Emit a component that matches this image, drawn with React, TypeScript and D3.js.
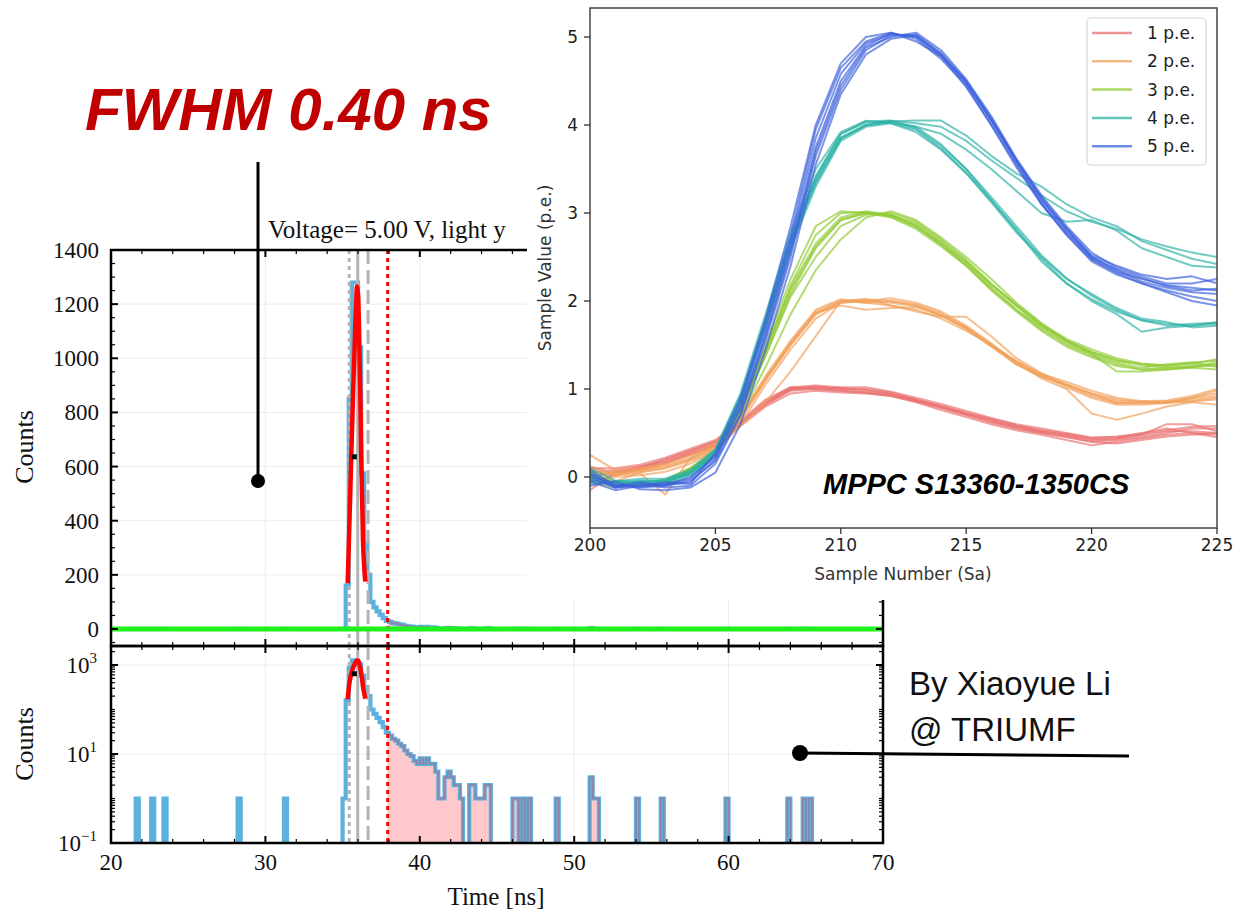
import React from "react";
import * as d3 from "d3";

// ---------------- Histogram data (time in ns, counts) ----------------
const BIN_WIDTH = 0.2;
const HIST_START = 20;
const HIST_END = 70;
const binStarts = [21.6, 22.6, 23.4, 28.2, 31.2, 35.0, 35.2, 35.4, 35.6, 35.8, 36.0, 36.2, 36.4, 36.6, 36.8, 37.0, 37.2, 37.4, 37.6, 37.8, 38.0, 38.2, 38.4, 38.6, 38.8, 39.0, 39.2, 39.4, 39.6, 39.8, 40.0, 40.2, 40.4, 40.6, 40.8, 41.0, 41.2, 41.4, 41.6, 41.8, 42.0, 42.2, 42.4, 42.6, 43.2, 43.4, 43.6, 43.8, 44.0, 44.2, 44.4, 46.0, 46.2, 46.6, 47.0, 48.8, 51.0, 51.2, 51.4, 54.0, 55.6, 59.8, 63.8, 64.8, 65.2];
const binCounts = [1, 1, 1, 1, 1, 1, 160, 850, 1280, 1280, 1040, 575, 317, 200, 100, 80, 65, 52, 40, 30, 26, 22, 20, 17, 15, 12, 10, 9, 7, 6, 8, 6, 8, 6, 6, 4, 1, 1, 3, 4, 3, 2, 2, 1, 2, 2, 1, 1, 1, 2, 2, 1, 1, 1, 1, 1, 3, 1, 1, 1, 1, 1, 1, 1, 1];

// Gaussian fit curve
const fitTime = [35.33, 35.41, 35.5, 35.59, 35.68, 35.76, 35.82, 35.87, 35.93, 35.98, 36.02, 36.06, 36.1, 36.15, 36.19, 36.26, 36.32, 36.4, 36.47];
const fitCounts = [169, 329, 510, 698, 870, 1006, 1120, 1191, 1265, 1250, 1215, 1120, 1006, 860, 698, 500, 329, 230, 175];

// Reference lines (ns)
const lowEdgeTime = 35.43;
const peakTime = 35.98;
const highEdgeTime = 36.65;
const thresholdTime = 37.92;
const halfMaxTime = 35.76;
const halfMaxCount = 636;

const xTicksMain = [20, 30, 40, 50, 60, 70];
const yTicksLinear = [0, 200, 400, 600, 800, 1000, 1200, 1400];
const yTicksLogExp = [-1, 1, 3];

// ---------------- Inset waveform data ----------------
const sampleNumbers = [200, 201, 202, 203, 204, 205, 206, 207, 208, 209, 210, 211, 212, 213, 214, 215, 216, 217, 218, 219, 220, 221, 222, 223, 224, 225];
const peLabels = ["1 p.e.", "2 p.e.", "3 p.e.", "4 p.e.", "5 p.e."];

const pe1Traces = [
  [0.05, 0.08, 0.12, 0.18, 0.28, 0.38, 0.6, 0.85, 1.0, 1.02, 1.0, 0.98, 0.95, 0.88, 0.8, 0.72, 0.65, 0.58, 0.52, 0.48, 0.42, 0.43, 0.47, 0.52, 0.52, 0.5],
  [-0.15, 0.05, 0.1, 0.2, 0.3, 0.4, 0.62, 0.82, 0.98, 1.0, 0.98, 0.96, 0.92, 0.86, 0.78, 0.7, 0.62, 0.55, 0.5, 0.45, 0.4, 0.42, 0.45, 0.5, 0.55, 0.55],
  [0.1, 0.1, 0.14, 0.22, 0.32, 0.42, 0.64, 0.88, 1.02, 1.04, 1.02, 1.02, 0.97, 0.9, 0.83, 0.75, 0.67, 0.6, 0.55, 0.5, 0.45, 0.45, 0.5, 0.55, 0.5, 0.48],
  [-0.05, 0.02, 0.08, 0.15, 0.25, 0.35, 0.58, 0.8, 0.95, 0.98, 0.96, 0.95, 0.92, 0.85, 0.76, 0.68, 0.6, 0.53, 0.48, 0.42, 0.36, 0.4, 0.44, 0.48, 0.5, 0.45],
  [0.0, 0.06, 0.1, 0.16, 0.26, 0.36, 0.6, 0.84, 1.0, 1.03, 1.0, 1.0, 0.96, 0.88, 0.8, 0.72, 0.64, 0.57, 0.52, 0.47, 0.43, 0.44, 0.48, 0.6, 0.6, 0.52],
  [0.12, 0.04, 0.12, 0.2, 0.3, 0.4, 0.62, 0.86, 1.02, 1.0, 0.98, 0.96, 0.93, 0.86, 0.79, 0.71, 0.63, 0.56, 0.5, 0.46, 0.4, 0.38, 0.42, 0.46, 0.48, 0.5],
  [0.02, 0.03, 0.09, 0.17, 0.27, 0.37, 0.61, 0.83, 0.99, 1.01, 1.01, 0.99, 0.94, 0.87, 0.81, 0.73, 0.66, 0.59, 0.53, 0.49, 0.44, 0.46, 0.49, 0.53, 0.57, 0.58],
];
const pe2Traces = [
  [0.1, 0.05, 0.08, 0.12, 0.2, 0.33, 0.65, 1.1, 1.5, 1.85, 2.0, 2.02, 2.0, 1.95, 1.84, 1.68, 1.48, 1.28, 1.14, 1.04, 0.92, 0.84, 0.84, 0.86, 0.88, 0.92],
  [0.25, 0.08, 0.1, 0.15, 0.25, 0.38, 0.7, 1.15, 1.55, 1.9, 2.02, 1.98, 1.95, 1.9, 1.8, 1.66, 1.5, 1.32, 1.16, 1.02, 0.9, 0.82, 0.82, 0.84, 0.9, 0.98],
  [-0.05, 0.0, 0.02, 0.06, 0.15, 0.3, 0.6, 1.05, 1.45, 1.8, 1.98, 2.0, 2.03, 1.98, 1.88, 1.72, 1.52, 1.3, 1.15, 1.05, 0.95, 0.86, 0.86, 0.85, 0.86, 0.88],
  [0.02, -0.05, 0.05, 0.1, 0.18, 0.3, 0.58, 0.85, 1.2, 1.6, 2.0, 2.02, 1.95, 1.88, 1.82, 1.82, 1.6, 1.35, 1.18, 1.05, 0.95, 0.88, 0.85, 0.85, 0.9, 0.95],
  [0.08, 0.02, 0.04, -0.2, 0.22, 0.34, 0.68, 1.12, 1.52, 1.88, 2.0, 1.98, 2.0, 1.96, 1.86, 1.7, 1.5, 1.3, 1.12, 1.0, 0.72, 0.65, 0.72, 0.8, 0.85, 0.82],
  [0.0, 0.04, 0.06, 0.1, 0.2, 0.32, 0.66, 1.1, 1.5, 1.85, 1.98, 2.0, 1.98, 1.94, 1.84, 1.7, 1.5, 1.28, 1.14, 1.05, 0.94, 0.84, 0.84, 0.84, 0.86, 0.9],
  [0.06, 0.03, 0.07, 0.13, 0.22, 0.35, 0.68, 1.12, 1.53, 1.87, 1.95, 1.9, 1.92, 1.93, 1.83, 1.69, 1.49, 1.31, 1.17, 1.08, 0.98, 0.9, 0.86, 0.87, 0.92, 1.0],
];
const pe3Traces = [
  [0.02, -0.1, -0.1, -0.06, 0.06, 0.26, 0.72, 1.38, 2.08, 2.6, 2.92, 3.0, 2.98, 2.86, 2.66, 2.42, 2.15, 1.9, 1.68, 1.5, 1.38, 1.28, 1.22, 1.24, 1.26, 1.28],
  [-0.06, -0.12, -0.06, -0.04, 0.1, 0.3, 0.8, 1.5, 2.25, 2.85, 3.02, 3.0, 2.95, 2.82, 2.62, 2.4, 2.12, 1.88, 1.66, 1.48, 1.36, 1.26, 1.22, 1.22, 1.25, 1.3],
  [0.05, -0.06, -0.08, -0.06, 0.07, 0.27, 0.74, 1.38, 2.05, 2.5, 2.85, 2.98, 3.0, 2.9, 2.7, 2.47, 2.2, 1.95, 1.72, 1.55, 1.42, 1.32, 1.28, 1.26, 1.3, 1.32],
  [-0.02, -0.08, -0.1, -0.05, 0.08, 0.28, 0.7, 1.25, 1.85, 2.35, 2.7, 2.95, 3.02, 2.92, 2.72, 2.5, 2.25, 1.98, 1.75, 1.55, 1.42, 1.33, 1.27, 1.24, 1.25, 1.27],
  [0.0, -0.05, -0.07, -0.03, 0.1, 0.3, 0.78, 1.45, 2.15, 2.65, 2.95, 3.02, 2.98, 2.85, 2.64, 2.4, 2.14, 1.9, 1.7, 1.52, 1.4, 1.3, 1.24, 1.28, 1.3, 1.25],
  [0.08, -0.1, -0.06, -0.05, 0.05, 0.25, 0.75, 1.42, 2.12, 2.62, 2.92, 3.0, 2.97, 2.88, 2.68, 2.45, 2.18, 1.94, 1.72, 1.54, 1.4, 1.2, 1.2, 1.22, 1.24, 1.22],
  [-0.04, -0.09, -0.08, -0.05, 0.09, 0.29, 0.76, 1.44, 2.18, 2.75, 3.0, 3.01, 2.96, 2.84, 2.65, 2.44, 2.19, 1.96, 1.74, 1.57, 1.45, 1.35, 1.29, 1.27, 1.28, 1.34],
];
const pe4Traces = [
  [0.05, -0.1, -0.05, -0.08, 0.02, 0.25, 0.85, 1.75, 2.65, 3.35, 3.85, 4.0, 4.05, 3.96, 3.76, 3.5, 3.15, 2.8, 2.45, 2.2, 2.02, 1.88, 1.78, 1.74, 1.72, 1.74],
  [-0.08, -0.05, -0.02, -0.02, 0.08, 0.32, 0.95, 1.85, 2.78, 3.5, 3.92, 4.05, 4.02, 3.92, 3.72, 3.45, 3.12, 2.78, 2.5, 2.25, 2.08, 1.92, 1.8, 1.76, 1.7, 1.72],
  [0.0, -0.12, -0.08, -0.06, 0.05, 0.26, 0.88, 1.78, 2.7, 3.4, 3.9, 4.03, 4.04, 3.98, 3.78, 3.5, 3.18, 2.85, 2.52, 2.26, 2.06, 1.9, 1.78, 1.72, 1.74, 1.75],
  [0.1, -0.04, -0.06, -0.04, 0.06, 0.3, 0.92, 1.7, 2.6, 3.3, 3.82, 3.98, 4.02, 3.95, 3.73, 3.46, 3.14, 2.82, 2.48, 2.2, 2.0, 1.85, 1.65, 1.7, 1.72, 1.76],
  [-0.05, -0.08, -0.04, -0.05, 0.04, 0.27, 0.88, 1.8, 2.72, 3.42, 3.9, 4.04, 4.05, 4.02, 3.98, 3.82, 3.6, 3.4, 3.2, 3.02, 2.9, 2.82, 2.7, 2.62, 2.55, 2.5],
  [0.03, -0.1, -0.07, -0.03, 0.06, 0.3, 0.9, 1.76, 2.68, 3.38, 3.86, 4.0, 4.04, 4.05, 4.05, 3.88, 3.65, 3.45, 3.3, 3.1, 2.95, 2.85, 2.68, 2.58, 2.48, 2.42],
  [-0.02, -0.06, -0.05, -0.06, 0.03, 0.24, 0.84, 1.72, 2.64, 3.34, 3.84, 4.0, 4.03, 3.98, 3.9, 3.72, 3.5, 3.25, 3.0, 2.9, 2.92, 2.8, 2.6, 2.5, 2.4, 2.38],
];
const pe5Traces = [
  [0.05, -0.12, -0.08, -0.12, -0.1, 0.15, 0.7, 1.55, 2.5, 3.65, 4.4, 4.85, 5.02, 5.03, 4.82, 4.5, 4.05, 3.6, 3.15, 2.82, 2.5, 2.35, 2.22, 2.15, 2.1, 2.08],
  [-0.05, -0.15, -0.1, -0.08, -0.02, 0.25, 0.85, 1.75, 2.75, 3.95, 4.65, 4.95, 5.05, 4.98, 4.75, 4.45, 4.0, 3.55, 3.1, 2.75, 2.45, 2.3, 2.2, 2.12, 2.05, 2.0],
  [0.02, -0.08, -0.12, -0.1, 0.0, 0.22, 0.78, 1.6, 2.55, 3.7, 4.45, 4.88, 5.0, 5.05, 4.85, 4.52, 4.1, 3.62, 3.2, 2.85, 2.55, 2.38, 2.28, 2.2, 2.2, 2.25],
  [-0.1, -0.05, -0.14, -0.15, -0.12, 0.05, 0.6, 1.45, 2.4, 3.55, 4.35, 4.8, 4.98, 5.02, 4.8, 4.47, 4.05, 3.57, 3.12, 2.78, 2.48, 2.33, 2.25, 2.18, 2.15, 2.12],
  [0.08, -0.1, -0.06, -0.1, -0.04, 0.18, 0.72, 1.62, 2.6, 3.75, 4.5, 4.9, 5.04, 5.0, 4.78, 4.43, 4.0, 3.52, 3.1, 2.76, 2.47, 2.32, 2.2, 2.1, 2.0, 1.95],
  [0.0, -0.12, -0.1, -0.06, -0.08, 0.28, 0.9, 1.8, 2.85, 4.0, 4.7, 5.0, 5.05, 4.95, 4.78, 4.5, 4.08, 3.6, 3.18, 2.83, 2.52, 2.4, 2.3, 2.25, 2.28, 2.2],
  [-0.03, -0.1, -0.11, -0.09, -0.06, 0.2, 0.8, 1.68, 2.68, 3.85, 4.58, 4.93, 5.03, 5.01, 4.8, 4.48, 4.06, 3.6, 3.16, 2.8, 2.5, 2.36, 2.26, 2.17, 2.12, 2.14],
];
const peTraceSets = [pe1Traces, pe2Traces, pe3Traces, pe4Traces, pe5Traces];
const peColors = ["#ea7070", "#f2a05c", "#8fca32", "#2db2a7", "#3c62dc"];
const insetXTicks = [200, 205, 210, 215, 220, 225];
const insetYTicks = [0, 1, 2, 3, 4, 5];

const SERIF = "'Liberation Serif', 'DejaVu Serif', serif";
const SANS = "'Liberation Sans', Arial, sans-serif";
const DJV = "'DejaVu Sans', sans-serif";

export default function App() {
  // main panels geometry
  const L = 111, R = 883;
  const upTop = 250, mid = 646, lowBot = 843;
  const x = d3.scaleLinear().domain([HIST_START, HIST_END]).range([L, R]);
  const yU = d3.scaleLinear().domain([-62.8, 1400]).range([mid, upTop]);
  const yL = d3.scaleLog().domain([0.1, 2673]).range([lowBot, mid]);
  const belowLog = lowBot + 30;
  const yLs = (c: number) => (c > 0 ? yL(c) : belowLog);

  const nBins = Math.round((HIST_END - HIST_START) / BIN_WIDTH);
  const counts: number[] = new Array(nBins).fill(0);
  binStarts.forEach((s, k) => {
    counts[Math.round((s - HIST_START) / BIN_WIDTH)] = binCounts[k];
  });
  const stepPts: [number, number][] = [[HIST_START, 0]];
  counts.forEach((c, i) => {
    const a = HIST_START + i * BIN_WIDTH;
    stepPts.push([a, c], [a + BIN_WIDTH, c]);
  });
  stepPts.push([HIST_END, 0]);
  const tailPts: [number, number][] = [];
  counts.forEach((c, i) => {
    const a = HIST_START + i * BIN_WIDTH;
    const b = a + BIN_WIDTH;
    if (b <= thresholdTime) return;
    tailPts.push([Math.max(a, thresholdTime), c], [b, c]);
  });

  const lineU = d3.line<[number, number]>().x((d) => x(d[0])).y((d) => yU(d[1]));
  const lineL = d3.line<[number, number]>().x((d) => x(d[0])).y((d) => yLs(d[1]));
  const areaU = d3.area<[number, number]>().x((d) => x(d[0])).y0(yU(0)).y1((d) => yU(d[1]));
  const areaL = d3.area<[number, number]>().x((d) => x(d[0])).y0(belowLog).y1((d) => yLs(d[1]));
  const fitPts: [number, number][] = fitTime.map((t, i) => [t, fitCounts[i]]);
  const fitU = d3.line<[number, number]>().x((d) => x(d[0])).y((d) => yU(d[1])).curve(d3.curveMonotoneX);
  const fitL = d3.line<[number, number]>().x((d) => x(d[0])).y((d) => yL(d[1])).curve(d3.curveMonotoneX);

  const xMinor = d3.range(HIST_START, HIST_END + 0.01, 2).filter((v) => v % 10 !== 0);
  const yUMinor = d3.range(-50, 1400, 50).filter((v) => v % 200 !== 0);
  const yLMinor: number[] = [];
  for (let k = -1; k <= 3; k++) {
    for (let m = 1; m <= 9; m++) {
      const v = m * Math.pow(10, k);
      if (m === 1 && (k === -1 || k === 1 || k === 3)) continue;
      if (v >= 0.1 && v <= 2673) yLMinor.push(v);
    }
  }

  const refLines = (top: number, bot: number) => (
    <g>
      <line x1={x(lowEdgeTime)} x2={x(lowEdgeTime)} y1={top} y2={bot} stroke="#b3b3b3" strokeWidth={3} strokeDasharray="4 4" />
      <line x1={x(peakTime)} x2={x(peakTime)} y1={top} y2={bot} stroke="#b3b3b3" strokeWidth={3} />
      <line x1={x(highEdgeTime)} x2={x(highEdgeTime)} y1={top} y2={bot} stroke="#b3b3b3" strokeWidth={3} strokeDasharray="14 6" />
    </g>
  );

  const xTickMarks = (top: number, bot: number) => (
    <g stroke="#000">
      {xTicksMain.map((v) => (
        <g key={"M" + v}>
          <line x1={x(v)} x2={x(v)} y1={top} y2={top + 7} strokeWidth={2} />
          <line x1={x(v)} x2={x(v)} y1={bot} y2={bot - 7} strokeWidth={2} />
        </g>
      ))}
      {xMinor.map((v) => (
        <g key={"m" + v}>
          <line x1={x(v)} x2={x(v)} y1={top} y2={top + 4} strokeWidth={1.2} />
          <line x1={x(v)} x2={x(v)} y1={bot} y2={bot - 4} strokeWidth={1.2} />
        </g>
      ))}
    </g>
  );

  // inset geometry
  const ix = d3.scaleLinear().domain([200, 225]).range([590, 1217]);
  const iy = d3.scaleLinear().domain([-0.58, 5.33]).range([528, 8]);
  const iLine = d3.line<number>().x((_, i) => ix(sampleNumbers[i])).y((d) => iy(d));

  return (
    <div style={{ position: "absolute", left: 0, top: 0 }}>
      <svg width={1246} height={911} style={{ display: "block", background: "#fff" }}>
        <defs>
          <clipPath id="clipU"><rect x={L} y={upTop} width={R - L} height={mid - upTop} /></clipPath>
          <clipPath id="clipL"><rect x={L} y={mid} width={R - L} height={lowBot - mid} /></clipPath>
          <clipPath id="clipI"><rect x={590} y={8} width={627} height={520} /></clipPath>
        </defs>
        <rect x={0} y={0} width={1246} height={911} fill="#fff" />

        {/* FWHM label */}
        <text x={85} y={130} fontFamily={SANS} fontWeight="bold" fontStyle="italic" fontSize={60} fill="#c00000">FWHM 0.40 ns</text>

        {/* title */}
        <text x={268} y={238} fontFamily={SERIF} fontSize={25} fill="#111">Voltage= 5.00 V, light y</text>

        {/* ---------- Upper (linear) panel ---------- */}
        <g>
          {yTicksLinear.filter((v) => v > 0 && v < 1400).map((v) => (
            <line key={v} x1={L} x2={R} y1={yU(v)} y2={yU(v)} stroke="#ececec" strokeWidth={1} />
          ))}
          {xTicksMain.filter((v) => v > 20 && v < 70).map((v) => (
            <line key={v} x1={x(v)} x2={x(v)} y1={upTop} y2={mid} stroke="#ececec" strokeWidth={1} />
          ))}
          <g clipPath="url(#clipU)">
            <path d={areaU(tailPts) || ""} fill="#ffc8cb" />
            <path d={lineU(stepPts) || ""} fill="none" stroke="#5cb2dc" strokeWidth={4.2} strokeLinejoin="miter" />
            <path d={lineU(tailPts) || ""} fill="none" stroke="#977da0" strokeWidth={1.5} />
            {refLines(upTop, mid)}
            <line x1={x(thresholdTime)} x2={x(thresholdTime)} y1={upTop} y2={mid} stroke="#ff0000" strokeWidth={3} strokeDasharray="4 4" />
            <path d={fitU(fitPts) || ""} fill="none" stroke="#ff0000" strokeWidth={4.5} />
            <rect x={x(halfMaxTime) - 2.5} y={yU(halfMaxCount) - 2.5} width={5} height={5} fill="#000" />
            <line x1={L} x2={R} y1={yU(0)} y2={yU(0)} stroke="#1ef01e" strokeWidth={5} />
          </g>
          {xTickMarks(upTop, mid)}
          <g stroke="#000">
            {yTicksLinear.map((v) => (
              <g key={v}>
                <line x1={L} x2={L + 7} y1={yU(v)} y2={yU(v)} strokeWidth={2} />
                <line x1={R} x2={R - 7} y1={yU(v)} y2={yU(v)} strokeWidth={2} />
              </g>
            ))}
            {yUMinor.map((v) => (
              <g key={v}>
                <line x1={L} x2={L + 4} y1={yU(v)} y2={yU(v)} strokeWidth={1.2} />
                <line x1={R} x2={R - 4} y1={yU(v)} y2={yU(v)} strokeWidth={1.2} />
              </g>
            ))}
          </g>
          <rect x={L} y={upTop} width={R - L} height={mid - upTop} fill="none" stroke="#000" strokeWidth={2.5} />
          {yTicksLinear.map((v) => (
            <text key={v} x={99} y={yU(v)} dy="0.35em" textAnchor="end" fontFamily={SERIF} fontSize={23} fill="#111">{v}</text>
          ))}
          <text transform={`translate(33,447) rotate(-90)`} textAnchor="middle" fontFamily={SERIF} fontSize={26} fill="#111">Counts</text>
        </g>

        {/* ---------- Lower (log) panel ---------- */}
        <g>
          {yTicksLogExp.filter((e) => e > -1).map((e) => (
            <line key={e} x1={L} x2={R} y1={yL(Math.pow(10, e))} y2={yL(Math.pow(10, e))} stroke="#ececec" strokeWidth={1} />
          ))}
          {xTicksMain.filter((v) => v > 20 && v < 70).map((v) => (
            <line key={v} x1={x(v)} x2={x(v)} y1={mid} y2={lowBot} stroke="#ececec" strokeWidth={1} />
          ))}
          <g clipPath="url(#clipL)">
            <path d={areaL(tailPts) || ""} fill="#ffc8cb" />
            <path d={lineL(stepPts) || ""} fill="none" stroke="#5cb2dc" strokeWidth={4.2} strokeLinejoin="miter" />
            <path d={lineL(tailPts) || ""} fill="none" stroke="#977da0" strokeWidth={1.5} />
            {refLines(mid, lowBot)}
            <line x1={x(thresholdTime)} x2={x(thresholdTime)} y1={mid} y2={lowBot} stroke="#ff0000" strokeWidth={3} strokeDasharray="4 4" />
            <path d={fitL(fitPts) || ""} fill="none" stroke="#ff0000" strokeWidth={4.5} />
            <rect x={x(halfMaxTime) - 2.5} y={yL(halfMaxCount) - 2.5} width={5} height={5} fill="#000" />
          </g>
          {xTickMarks(mid, lowBot)}
          <g stroke="#000">
            {yTicksLogExp.map((e) => (
              <g key={e}>
                <line x1={L} x2={L + 7} y1={yL(Math.pow(10, e))} y2={yL(Math.pow(10, e))} strokeWidth={2} />
                <line x1={R} x2={R - 7} y1={yL(Math.pow(10, e))} y2={yL(Math.pow(10, e))} strokeWidth={2} />
              </g>
            ))}
            {yLMinor.map((v) => (
              <g key={v}>
                <line x1={L} x2={L + 4} y1={yL(v)} y2={yL(v)} strokeWidth={1.2} />
                <line x1={R} x2={R - 4} y1={yL(v)} y2={yL(v)} strokeWidth={1.2} />
              </g>
            ))}
          </g>
          <rect x={L} y={mid} width={R - L} height={lowBot - mid} fill="none" stroke="#000" strokeWidth={2.5} />
          {yTicksLogExp.map((e) => (
            <text key={e} x={97} y={yL(Math.pow(10, e)) + 8} textAnchor="end" fontFamily={SERIF} fontSize={23} fill="#111">
              10<tspan dy={-10} fontSize={15}>{e < 0 ? "\u2212" + Math.abs(e) : String(e)}</tspan>
            </text>
          ))}
          <text transform={`translate(33,744) rotate(-90)`} textAnchor="middle" fontFamily={SERIF} fontSize={26} fill="#111">Counts</text>
          {xTicksMain.map((v) => (
            <text key={v} x={x(v)} y={870} textAnchor="middle" fontFamily={SERIF} fontSize={23} fill="#111">{v}</text>
          ))}
          <text x={496} y={905} textAnchor="middle" fontFamily={SERIF} fontSize={25} fill="#111">Time [ns]</text>
        </g>

        {/* ---------- Inset ---------- */}
        <rect x={527} y={0} width={719} height={600} fill="#fff" />
        <g clipPath="url(#clipI)">
          {peTraceSets.map((set, k) => (
            <g key={k}>
              {set.map((tr, j) => (
                <path key={j} d={iLine(tr) || ""} fill="none" stroke={peColors[k]} strokeWidth={2} strokeOpacity={0.68} strokeLinejoin="round" />
              ))}
            </g>
          ))}
        </g>
        <rect x={590} y={8} width={627} height={520} fill="none" stroke="#444" strokeWidth={1.5} />
        <g stroke="#333" strokeWidth={1.3}>
          {insetXTicks.map((v) => (
            <line key={v} x1={ix(v)} x2={ix(v)} y1={528} y2={534} />
          ))}
          {insetYTicks.map((v) => (
            <line key={v} x1={584} x2={590} y1={iy(v)} y2={iy(v)} />
          ))}
        </g>
        {insetXTicks.map((v) => (
          <text key={v} x={ix(v)} y={551} textAnchor="middle" fontFamily={DJV} fontSize={17} fill="#222">{v}</text>
        ))}
        {insetYTicks.map((v) => (
          <text key={v} x={578} y={iy(v)} dy="0.35em" textAnchor="end" fontFamily={DJV} fontSize={17} fill="#222">{v}</text>
        ))}
        <text x={903} y={580} textAnchor="middle" fontFamily={DJV} fontSize={17} fill="#333">Sample Number (Sa)</text>
        <text transform={`translate(551,268) rotate(-90)`} textAnchor="middle" fontFamily={DJV} fontSize={17} fill="#333">Sample Value (p.e.)</text>

        {/* legend */}
        <rect x={1087} y={18} width={119} height={147} rx={4} fill="#fff" fillOpacity={0.85} stroke="#d6d6d6" strokeWidth={1.2} />
        {peLabels.map((lab, k) => (
          <g key={lab}>
            <line x1={1092} x2={1132} y1={33 + k * 28.3} y2={33 + k * 28.3} stroke={peColors[k]} strokeWidth={2.5} strokeOpacity={0.75} />
            <text x={1147} y={33 + k * 28.3} dy="0.35em" fontFamily={DJV} fontSize={17} fill="#222">{lab}</text>
          </g>
        ))}

        <text x={823} y={494} fontFamily={SANS} fontWeight="bold" fontStyle="italic" fontSize={29} fill="#000">MPPC S13360-1350CS</text>

        {/* annotations */}
        <line x1={258} x2={258} y1={162} y2={481} stroke="#000" strokeWidth={3} />
        <circle cx={258} cy={481} r={7} fill="#000" />
        <line x1={800} x2={1129} y1={753} y2={756} stroke="#000" strokeWidth={3} />
        <circle cx={800} cy={753} r={8} fill="#000" />

        <text x={909} y={695} fontFamily={SANS} fontSize={33} fill="#111">By Xiaoyue Li</text>
        <text x={909} y={741} fontFamily={SANS} fontSize={33} fill="#111">@ TRIUMF</text>
      </svg>
    </div>
  );
}
